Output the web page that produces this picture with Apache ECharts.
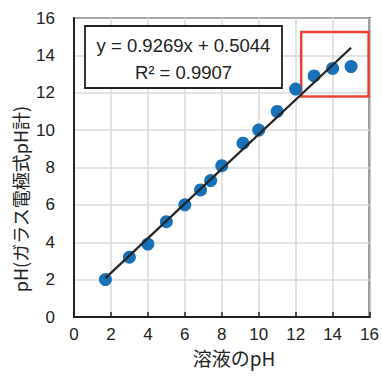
<!DOCTYPE html>
<html><head><meta charset="utf-8">
<script src="https://cdn.jsdelivr.net/npm/echarts@6/dist/echarts.min.js"></script>
<style>html,body{margin:0;padding:0;background:#fff}#c{width:382px;height:376px}</style>
</head><body><div id="c"></div>
<script>
var xValues = [1.7, 3, 4, 5, 6, 6.85, 7.4, 8, 9.15, 10, 11, 12, 13, 14, 15];
var yValues = [2.0, 3.2, 3.9, 5.1, 6.0, 6.8, 7.3, 8.1, 9.3, 10.0, 11.0, 12.2, 12.9, 13.3, 13.4];
var trendCoef = [0.9269, 0.5044];
var trendX = [1.7, 15];
var eqLabel = 'y = 0.9269x + 0.5044';
var r2Label = 'R² = 0.9907';
var xTitle = '溶液のpH';
var yTitle = 'pH(ガラス電極式pH計)';
var highlightX = [12.3, 15.95];
var highlightY = [11.8, 15.25];

var pts = xValues.map(function(x, i){ return [x, yValues[i]]; });
var trend = trendX.map(function(x){ return [x, trendCoef[0]*x + trendCoef[1]]; });

var chart = echarts.init(document.getElementById('c'), null, {renderer:'svg'});
var font = '"Liberation Sans", Arial, sans-serif';
var cjk = '"Noto Sans CJK JP", "Liberation Sans", sans-serif';
chart.setOption({
  animation:false,
  grid:{left:74, right:12, top:18, bottom:59, show:true, borderColor:'#222', borderWidth:2, backgroundColor:'transparent'},
  xAxis:{type:'value', min:0, max:16, interval:2,
    axisLine:{show:true, onZero:false, lineStyle:{color:'#222', width:2}},
    axisTick:{show:true, inside:true, length:5, lineStyle:{color:'#222', width:1.5}},
    splitLine:{show:true, lineStyle:{color:'#d9d9d9', width:1.5}},
    axisLabel:{color:'#222', fontSize:17, fontFamily:font, margin:9}},
  yAxis:{type:'value', min:0, max:16, interval:2,
    axisLine:{show:true, onZero:false, lineStyle:{color:'#222', width:2}},
    axisTick:{show:false},
    splitLine:{show:true, lineStyle:{color:'#d9d9d9', width:1.5}},
    axisLabel:{color:'#222', fontSize:17, fontFamily:font, margin:19}},
  series:[
    {type:'scatter', data:pts, symbolSize:13, itemStyle:{color:'#1870b8', opacity:1}, z:3,
     markArea:{silent:true, itemStyle:{color:'rgba(0,0,0,0)', borderColor:'#ea4335', borderWidth:2.5},
       data:[[{coord:[highlightX[0], highlightY[1]]},{coord:[highlightX[1], highlightY[0]]}]]}},
    {type:'line', data:trend, showSymbol:false, symbol:'none', lineStyle:{color:'#222', width:2.2}, z:4}
  ],
  graphic:[
    {type:'rect', shape:{x:85, y:26, width:197, height:62}, style:{fill:'#fff', stroke:'#222', lineWidth:1.8}, z:10},
    {type:'text', x:183.5, y:45, style:{text:eqLabel, font:'18.5px '+font, fill:'#222', textAlign:'center', textVerticalAlign:'middle'}, z:11},
    {type:'text', x:183.5, y:72, style:{text:r2Label, font:'18.5px '+font, fill:'#222', textAlign:'center', textVerticalAlign:'middle'}, z:11},
    {type:'text', x:234, y:357, style:{text:xTitle, font:'19px '+cjk, fill:'#222', textAlign:'center', textVerticalAlign:'middle'}},
    {type:'text', x:20, y:199, rotation:Math.PI/2, style:{text:yTitle, font:'18px '+cjk, fill:'#222', textAlign:'center', textVerticalAlign:'middle'}}
  ]
});
</script></body></html>
